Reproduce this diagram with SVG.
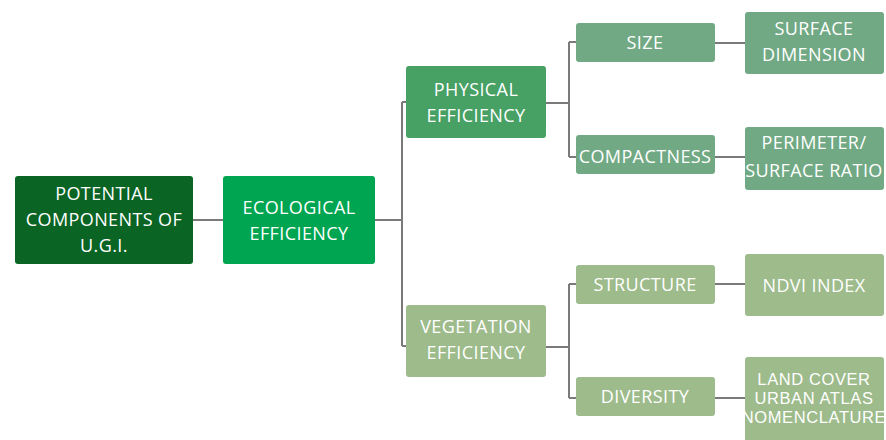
<svg xmlns="http://www.w3.org/2000/svg" width="886" height="440" viewBox="0 0 886 440">
<style>
.t{font-family:"Open Sans","Liberation Sans",sans-serif;font-size:18px;font-weight:500;fill:#fff;text-anchor:middle;letter-spacing:0.4px}
.s{font-family:"Liberation Sans","Open Sans",sans-serif;font-size:16.5px;letter-spacing:0.6px}
.c{fill:none;stroke:#7a7a7a;stroke-width:2}
.l1{fill:#0a6424}.l2{fill:#00a551}.l3{fill:#47a064}.l4{fill:#71a984}.l5{fill:#9dbb8b}
</style>
<rect width="886" height="440" fill="#fff"/>
<g id="connectors">
<path class="c" d="M193 220H223"/>
<path class="c" d="M375 220H402M402 102V346M402 102H406M402 346H406"/>
<path class="c" d="M546 103H569M569 42V157M569 42H576M569 157H576"/>
<path class="c" d="M546 347H569M569 284V398M569 284H576M569 398H576"/>
<path class="c" d="M715 43H745M715 157H745M715 284H745M715 398H745"/>
</g>
<g id="root"><rect class="l1" x="15" y="176" width="178" height="88" rx="3"/>
<text class="t" x="104" y="200">POTENTIAL</text><text class="t" x="104" y="226">COMPONENTS OF</text><text class="t" x="104" y="252">U.G.I.</text></g>
<g id="ecological"><rect class="l2" x="223" y="176" width="152" height="88" rx="3"/>
<text class="t" x="299" y="214">ECOLOGICAL</text><text class="t" x="299" y="240">EFFICIENCY</text></g>
<g id="physical"><rect class="l3" x="406" y="66" width="140" height="72" rx="3"/>
<text class="t" x="476" y="96">PHYSICAL</text><text class="t" x="476" y="122">EFFICIENCY</text></g>
<g id="vegetation"><rect class="l5" x="406" y="305" width="140" height="72" rx="3"/>
<text class="t" x="476" y="333">VEGETATION</text><text class="t" x="476" y="359">EFFICIENCY</text></g>
<g id="size"><rect class="l4" x="576" y="23" width="139" height="39" rx="3"/>
<text class="t" x="645" y="49">SIZE</text></g>
<g id="compactness"><rect class="l4" x="576" y="135" width="139" height="39" rx="3"/>
<text class="t" x="645" y="163">COMPACTNESS</text></g>
<g id="surface"><rect class="l4" x="745" y="12" width="139" height="62" rx="3"/>
<text class="t" x="814" y="35">SURFACE</text><text class="t" x="814" y="61">DIMENSION</text></g>
<g id="perimeter"><rect class="l4" x="745" y="127" width="139" height="63" rx="3"/>
<text class="t" x="814" y="149">PERIMETER/</text><text class="t" x="814" y="177">SURFACE RATIO</text></g>
<g id="structure"><rect class="l5" x="576" y="265" width="139" height="39" rx="3"/>
<text class="t" x="645" y="291">STRUCTURE</text></g>
<g id="ndvi"><rect class="l5" x="745" y="254" width="139" height="62" rx="3"/>
<text class="t" x="814" y="292">NDVI INDEX</text></g>
<g id="diversity"><rect class="l5" x="576" y="377" width="139" height="39" rx="3"/>
<text class="t" x="645" y="403">DIVERSITY</text></g>
<g id="landcover"><rect class="l5" x="745" y="357" width="139" height="90" rx="3"/>
<text class="t s" x="814" y="385">LAND COVER</text><text class="t s" x="814" y="404">URBAN ATLAS</text><text class="t s" x="814" y="423">NOMENCLATURE</text></g>
</svg>
